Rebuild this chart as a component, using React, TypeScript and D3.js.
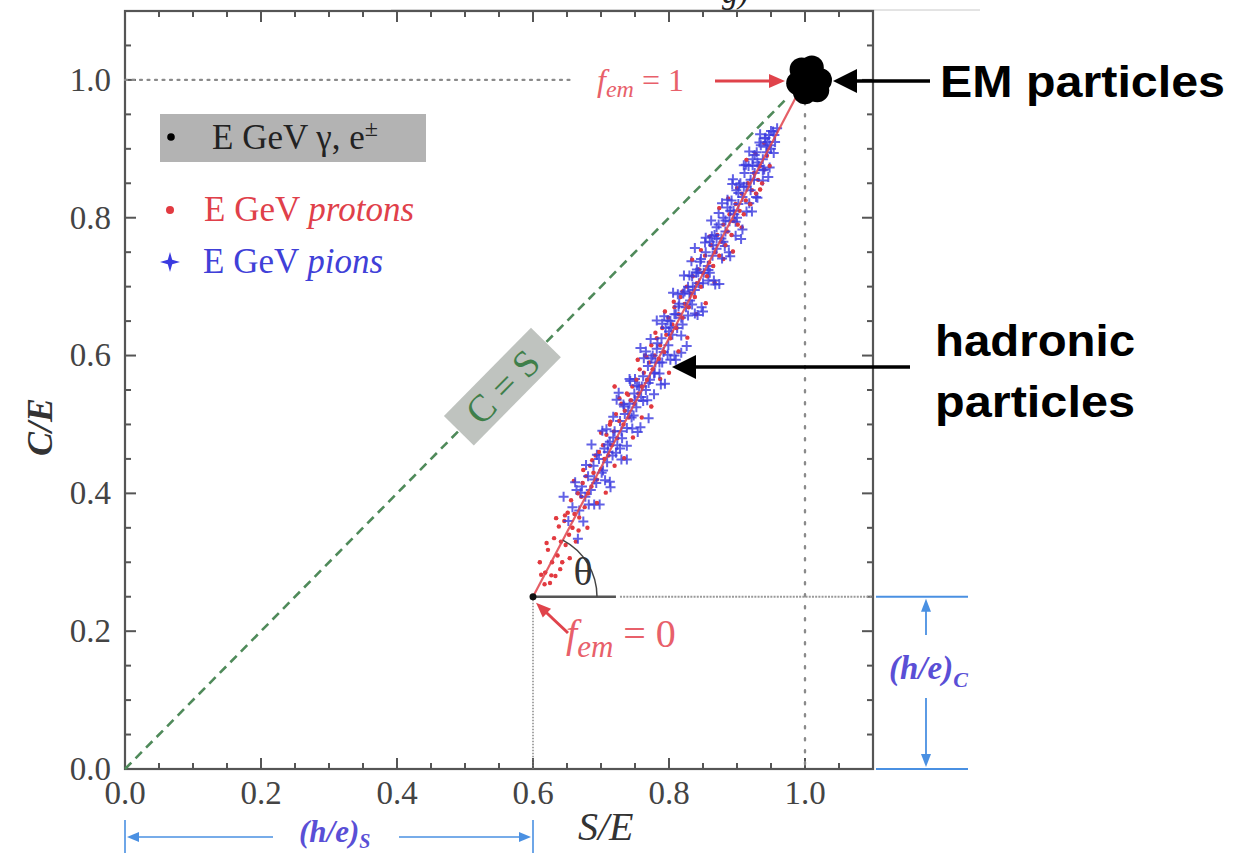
import React from "react";
import * as d3 from "d3";

// ---------- data ----------
const tickValues = [0, 0.2, 0.4, 0.6, 0.8, 1.0];
const tickLabels = ["0.0", "0.2", "0.4", "0.6", "0.8", "1.0"];
const minorTicks = d3.range(0, 1.1001, 0.05);
const axisMax = 1.1;

const femZero: [number, number] = [0.6, 0.25];
const femOne: [number, number] = [1.0, 1.0];
const equalityEnd = 0.975;
const oneLineEnd = 0.655;
const thetaSolidEnd = 0.722;

const protons: [number, number][] = [
  [0.61, 0.30], [0.612, 0.282], [0.617, 0.268], [0.618, 0.285], [0.622, 0.318], [0.625, 0.27],
  [0.628, 0.30], [0.631, 0.335], [0.633, 0.28], [0.636, 0.31], [0.638, 0.352], [0.641, 0.33],
  [0.643, 0.30], [0.646, 0.36], [0.648, 0.325], [0.651, 0.372], [0.653, 0.34], [0.656, 0.39],
  [0.658, 0.35], [0.661, 0.37], [0.663, 0.33], [0.666, 0.40], [0.668, 0.365], [0.671, 0.395],
  [0.673, 0.415], [0.676, 0.38], [0.678, 0.425], [0.681, 0.40], [0.684, 0.44], [0.686, 0.41],
  [0.689, 0.43], [0.692, 0.455], [0.694, 0.42], [0.697, 0.46], [0.70, 0.435], [0.703, 0.47],
  [0.705, 0.45], [0.708, 0.485], [0.711, 0.455], [0.713, 0.50], [0.716, 0.47], [0.719, 0.49],
  [0.72, 0.555], [0.722, 0.515], [0.724, 0.48], [0.727, 0.505], [0.73, 0.53], [0.733, 0.50],
  [0.735, 0.52], [0.738, 0.545], [0.741, 0.51], [0.744, 0.535], [0.746, 0.555], [0.749, 0.53],
  [0.752, 0.565], [0.755, 0.545], [0.757, 0.58], [0.76, 0.555], [0.763, 0.575], [0.765, 0.60],
  [0.768, 0.565], [0.771, 0.59], [0.774, 0.615], [0.776, 0.58], [0.779, 0.60], [0.782, 0.625],
  [0.785, 0.595], [0.787, 0.615], [0.79, 0.64], [0.793, 0.605], [0.796, 0.63], [0.799, 0.655],
  [0.802, 0.625], [0.805, 0.645], [0.808, 0.67], [0.811, 0.64], [0.814, 0.66], [0.817, 0.685],
  [0.82, 0.655], [0.823, 0.675], [0.826, 0.70], [0.829, 0.67], [0.832, 0.69], [0.835, 0.715],
  [0.838, 0.685], [0.841, 0.705], [0.844, 0.725], [0.847, 0.70], [0.85, 0.72], [0.853, 0.745],
  [0.856, 0.715], [0.859, 0.735], [0.862, 0.76], [0.865, 0.73], [0.868, 0.75], [0.871, 0.775],
  [0.874, 0.745], [0.877, 0.765], [0.88, 0.79], [0.883, 0.76], [0.886, 0.78], [0.889, 0.805],
  [0.892, 0.775], [0.895, 0.795], [0.898, 0.82], [0.901, 0.79], [0.904, 0.81], [0.907, 0.835],
  [0.91, 0.805], [0.913, 0.825], [0.916, 0.85], [0.919, 0.82], [0.922, 0.84], [0.925, 0.865],
  [0.928, 0.835], [0.931, 0.855], [0.934, 0.875], [0.937, 0.85], [0.94, 0.87], [0.944, 0.89],
  [0.948, 0.875],
  [0.62, 0.328], [0.627, 0.281], [0.634, 0.364], [0.64, 0.29], [0.647, 0.368], [0.654, 0.306],
  [0.66, 0.418], [0.667, 0.346], [0.674, 0.434], [0.68, 0.35], [0.687, 0.448], [0.694, 0.386],
  [0.70, 0.488], [0.707, 0.401], [0.714, 0.504], [0.72, 0.44], [0.727, 0.538], [0.734, 0.451],
  [0.74, 0.543], [0.747, 0.481], [0.754, 0.594], [0.76, 0.51], [0.767, 0.598], [0.774, 0.526],
  [0.78, 0.633], [0.787, 0.566], [0.794, 0.664], [0.80, 0.575], [0.807, 0.678], [0.814, 0.606],
  [0.82, 0.693], [0.827, 0.626], [0.834, 0.739], [0.84, 0.66], [0.847, 0.753], [0.854, 0.676],
  [0.86, 0.773], [0.867, 0.706], [0.874, 0.814], [0.88, 0.74], [0.887, 0.828], [0.894, 0.751],
  [0.90, 0.843], [0.907, 0.786], [0.914, 0.884], [0.92, 0.82], [0.927, 0.893], [0.934, 0.841],
  [0.94, 0.908],
];

const pions: [number, number][] = [
  [0.645, 0.395], [0.652, 0.36], [0.658, 0.38], [0.664, 0.405], [0.668, 0.375], [0.672, 0.41],
  [0.677, 0.395], [0.681, 0.425], [0.685, 0.405], [0.689, 0.44], [0.69, 0.42], [0.693, 0.415],
  [0.697, 0.45], [0.701, 0.43], [0.705, 0.465], [0.709, 0.445], [0.71, 0.46], [0.713, 0.475],
  [0.717, 0.455], [0.72, 0.49], [0.724, 0.47], [0.728, 0.505], [0.73, 0.49], [0.731, 0.48],
  [0.735, 0.515], [0.738, 0.495], [0.74, 0.52], [0.742, 0.53], [0.745, 0.51], [0.749, 0.545],
  [0.75, 0.535], [0.752, 0.525], [0.756, 0.555], [0.759, 0.54], [0.76, 0.555], [0.762, 0.57],
  [0.766, 0.55], [0.769, 0.585], [0.77, 0.56], [0.772, 0.565], [0.776, 0.60], [0.779, 0.575],
  [0.78, 0.59], [0.782, 0.61], [0.786, 0.59], [0.789, 0.625], [0.79, 0.59], [0.792, 0.605],
  [0.795, 0.64], [0.799, 0.615], [0.80, 0.635], [0.802, 0.65], [0.805, 0.63], [0.808, 0.66],
  [0.81, 0.66], [0.812, 0.64], [0.815, 0.675], [0.818, 0.655], [0.82, 0.645], [0.821, 0.69],
  [0.825, 0.67], [0.828, 0.70], [0.83, 0.69], [0.831, 0.68], [0.834, 0.715], [0.835, 0.70],
  [0.838, 0.695], [0.84, 0.72], [0.841, 0.725], [0.844, 0.705], [0.847, 0.74], [0.85, 0.705],
  [0.851, 0.72], [0.854, 0.75], [0.857, 0.73], [0.86, 0.765], [0.86, 0.72], [0.864, 0.745],
  [0.865, 0.76], [0.867, 0.775], [0.87, 0.755], [0.87, 0.77], [0.873, 0.79], [0.877, 0.77],
  [0.88, 0.80], [0.88, 0.765], [0.883, 0.78], [0.886, 0.815], [0.889, 0.795], [0.89, 0.81],
  [0.892, 0.825], [0.895, 0.81], [0.896, 0.805], [0.899, 0.84], [0.90, 0.80], [0.902, 0.82],
  [0.905, 0.85], [0.908, 0.83], [0.91, 0.845], [0.911, 0.865], [0.914, 0.845], [0.917, 0.875],
  [0.92, 0.855], [0.92, 0.84], [0.923, 0.885], [0.925, 0.855], [0.926, 0.865], [0.929, 0.895],
  [0.93, 0.88], [0.932, 0.875], [0.935, 0.905], [0.938, 0.885], [0.94, 0.87], [0.941, 0.915],
  [0.944, 0.895], [0.945, 0.91], [0.947, 0.92], [0.948, 0.905], [0.95, 0.90], [0.953, 0.925],
  [0.955, 0.92], [0.956, 0.91], [0.959, 0.93],
  [0.662, 0.416], [0.666, 0.334], [0.67, 0.401], [0.674, 0.359], [0.678, 0.441], [0.682, 0.384],
  [0.686, 0.471], [0.69, 0.384], [0.694, 0.456], [0.698, 0.384], [0.702, 0.491], [0.706, 0.419],
  [0.71, 0.471], [0.714, 0.409], [0.718, 0.511], [0.722, 0.459], [0.726, 0.546], [0.73, 0.449],
  [0.734, 0.526], [0.738, 0.449], [0.742, 0.566], [0.746, 0.494], [0.75, 0.566], [0.754, 0.489],
  [0.758, 0.611], [0.762, 0.534], [0.766, 0.606], [0.77, 0.509], [0.774, 0.596], [0.778, 0.544],
  [0.782, 0.651], [0.786, 0.574], [0.79, 0.646], [0.794, 0.559], [0.798, 0.651], [0.802, 0.594],
  [0.806, 0.691], [0.81, 0.594], [0.814, 0.671], [0.818, 0.629], [0.822, 0.716], [0.826, 0.614],
  [0.83, 0.716], [0.834, 0.674], [0.838, 0.756], [0.842, 0.659], [0.846, 0.736], [0.85, 0.664],
  [0.854, 0.771], [0.858, 0.709], [0.862, 0.796], [0.866, 0.709], [0.87, 0.786], [0.874, 0.704],
  [0.878, 0.821], [0.882, 0.759], [0.886, 0.826], [0.89, 0.744], [0.894, 0.856], [0.898, 0.774],
  [0.902, 0.836], [0.906, 0.769], [0.91, 0.876], [0.914, 0.809], [0.918, 0.896], [0.922, 0.809],
  [0.926, 0.891], [0.93, 0.829], [0.934, 0.921], [0.938, 0.854], [0.942, 0.916], [0.946, 0.859],
  [0.95, 0.926], [0.954, 0.894],
  [0.703, 0.433], [0.708, 0.493], [0.713, 0.417], [0.718, 0.481], [0.723, 0.536], [0.728, 0.465],
  [0.733, 0.529], [0.738, 0.469], [0.743, 0.563], [0.748, 0.513], [0.753, 0.557], [0.758, 0.496],
  [0.763, 0.596], [0.768, 0.535], [0.773, 0.624], [0.778, 0.574], [0.783, 0.618], [0.788, 0.558],
  [0.793, 0.657], [0.798, 0.601], [0.803, 0.641], [0.808, 0.60], [0.813, 0.689], [0.818, 0.604],
  [0.823, 0.693], [0.828, 0.658], [0.833, 0.737], [0.838, 0.661], [0.843, 0.721], [0.848, 0.67],
  [0.853, 0.764], [0.858, 0.724], [0.863, 0.773], [0.868, 0.703], [0.873, 0.807], [0.878, 0.741],
  [0.883, 0.796], [0.888, 0.75], [0.893, 0.849], [0.898, 0.794], [0.903, 0.848], [0.908, 0.783],
  [0.913, 0.877], [0.918, 0.821], [0.923, 0.876], [0.928, 0.83], [0.933, 0.909], [0.938, 0.869],
  [0.943, 0.903], [0.948, 0.873],
];

const emShowers: [number, number][] = [
  [0.995, 1.015], [1.01, 1.018], [1.022, 1.0], [1.018, 0.985], [1.0, 0.982], [0.99, 0.995], [1.005, 1.0],
];

// ---------- layout ----------
const W = 1247;
const H = 853;
const serif = "'Liberation Serif', 'Times New Roman', serif";
const sans = "'Liberation Sans', Arial, Helvetica, sans-serif";

const x = d3.scaleLinear().domain([0, axisMax]).range([125, 873]);
const y = d3.scaleLinear().domain([0, axisMax]).range([769, 11]);

const axisColor = "#555";
const redLine = "#e0434b";
const redText = "#e8606a";
const pionBlue = "#3a3ae0";
const annBlue = "#4a90e2";
const labelBlue = "#5a4fd6";

function headPath(tipX: number, tipY: number, dirX: number, dirY: number, len: number, half: number) {
  const bx = tipX - dirX * len;
  const by = tipY - dirY * len;
  const px = -dirY;
  const py = dirX;
  return `M${tipX},${tipY}L${bx + px * half},${by + py * half}L${bx - px * half},${by - py * half}Z`;
}

export default function App() {
  const x0 = x(0), x1 = x(axisMax), y0 = y(0), y1 = y(axisMax);
  const fz = [x(femZero[0]), y(femZero[1])];
  const fo = [x(femOne[0]), y(femOne[1])];
  const ang = Math.atan2(fz[1] - fo[1], fo[0] - fz[0]);
  const arcR = 64;
  const lineLine = d3.line<[number, number]>().x((d) => x(d[0])).y((d) => y(d[1]));
  const csx = x(0.555), csy = y(0.555);
  const csAngle = (Math.atan2(y(1) - y(0), x(1) - x(0)) * 180) / Math.PI;

  const starPts = [[0, -10], [2.2, -2.2], [10, 0], [2.2, 2.2], [0, 10], [-2.2, 2.2], [-10, 0], [-2.2, -2.2]];

  // f_em = 0 arrow geometry
  const fa = [568, 633];
  const fdx = fz[0] + 3 - fa[0], fdy = fz[1] + 6 - fa[1];
  const fl = Math.hypot(fdx, fdy);
  const fux = fdx / fl, fuy = fdy / fl;
  const pr = 5;

  return (
    <svg width={W} height={H} style={{ position: "absolute", left: 0, top: 0, background: "#fff" }}>
      {/* top remnants */}
      <line x1={391} x2={980} y1={10} y2={10} stroke="#c8c8c8" strokeWidth={1} />
      <text x={722} y={3} fontFamily={serif} fontStyle="italic" fontSize={32} fill="#222">g)</text>

      {/* frame */}
      <rect x={x0} y={y1} width={x1 - x0} height={y0 - y1} fill="none" stroke={axisColor} strokeWidth={2.2} />
      {minorTicks.map((v, i) => {
        const major = tickValues.some((t) => Math.abs(t - v) < 1e-6);
        const L = major ? 11 : 6;
        return (
          <g key={"t" + i} stroke={axisColor} strokeWidth={2}>
            <line x1={x(v)} x2={x(v)} y1={y0} y2={y0 - L} />
            <line x1={x(v)} x2={x(v)} y1={y1} y2={y1 + L} />
            <line x1={x0} x2={x0 + L} y1={y(v)} y2={y(v)} />
            <line x1={x1} x2={x1 - L} y1={y(v)} y2={y(v)} />
          </g>
        );
      })}
      {tickValues.map((v, i) => (
        <g key={"l" + i} fontFamily={serif} fontSize={33} fill="#444">
          <text x={x(v)} y={804} textAnchor="middle">{tickLabels[i]}</text>
          <text x={111} y={y(v)} dy="0.33em" textAnchor="end">{tickLabels[i]}</text>
        </g>
      ))}
      <text x={578} y={840} fontFamily={serif} fontStyle="italic" fontSize={40} fill="#333">S/E</text>
      <text transform={`translate(52,427) rotate(-90)`} textAnchor="middle" fontFamily={serif} fontStyle="italic" fontWeight="bold" fontSize={36} fill="#333">C/E</text>

      {/* reference dotted lines */}
      <line x1={x(0)} x2={x(oneLineEnd)} y1={y(1)} y2={y(1)} stroke="#8a8a8a" strokeWidth={2.2} strokeDasharray="2 5.5" strokeLinecap="round" />
      <line x1={x(1)} x2={x(1)} y1={y(0.985)} y2={y(0)} stroke="#8a8a8a" strokeWidth={2.4} strokeDasharray="2 10" strokeLinecap="round" />
      <line x1={fz[0]} x2={fz[0]} y1={fz[1]} y2={y0} stroke="#777" strokeWidth={1.3} strokeDasharray="1.5 1.5" />
      <line x1={x(thetaSolidEnd) + 4} x2={x1} y1={fz[1]} y2={fz[1]} stroke="#9a9a9a" strokeWidth={2.2} strokeDasharray="2 1.2" />

      {/* C = S diagonal */}
      <path d={lineLine([[0, 0], [equalityEnd, equalityEnd]]) || ""} stroke="#4f8a5a" strokeWidth={2.6} strokeDasharray="9 6" fill="none" />
      <g transform={`translate(${csx},${csy}) rotate(${csAngle})`}>
        <rect x={-62} y={-21} width={124} height={42} fill="#bfc3bf" />
        <text x={0} y={0} dy="0.35em" textAnchor="middle" fontFamily={serif} fontSize={38} fill="#3f7f4a">C = S</text>
      </g>

      {/* hadron scatter */}
      {protons.map((d, i) => (
        <circle key={"p" + i} cx={x(d[0])} cy={y(d[1])} r={2.2} fill="#e23a40" />
      ))}
      {pions.map((d, i) => (
        <path key={"pi" + i} d={`M${x(d[0]) - pr},${y(d[1])}H${x(d[0]) + pr}M${x(d[0])},${y(d[1]) - pr}V${y(d[1]) + pr}`} stroke={pionBlue} strokeWidth={2} opacity={0.8} />
      ))}
      {protons.filter((_, i) => i % 3 === 0).map((d, i) => (
        <circle key={"pt" + i} cx={x(d[0])} cy={y(d[1])} r={2} fill="#e23a40" opacity={0.85} />
      ))}
      <path d={lineLine([femZero, femOne]) || ""} stroke={redLine} strokeWidth={2.2} opacity={0.85} fill="none" />

      {/* theta construction */}
      <line x1={fz[0]} x2={x(thetaSolidEnd)} y1={fz[1]} y2={fz[1]} stroke="#555" strokeWidth={2.6} />
      <path d={`M${fz[0] + arcR},${fz[1]} A${arcR},${arcR} 0 0 0 ${fz[0] + arcR * Math.cos(ang)},${fz[1] - arcR * Math.sin(ang)}`} fill="none" stroke="#444" strokeWidth={1.5} />
      <circle cx={fz[0]} cy={fz[1]} r={3.5} fill="#111" />
      <text x={583} y={571} dy="0.35em" textAnchor="middle" fontFamily={serif} fontSize={40} fill="#333">θ</text>

      {/* EM blob */}
      {emShowers.map((d, i) => (
        <circle key={"em" + i} cx={x(d[0])} cy={y(d[1])} r={12} fill="#000" />
      ))}

      {/* f_em = 1 */}
      <text x={597} y={91} fontFamily={serif} fontSize={32} fill={redText}>
        <tspan fontStyle="italic">f</tspan>
        <tspan fontStyle="italic" fontSize={24} dy={6}>em</tspan>
        <tspan dy={-6}> = 1</tspan>
      </text>
      <line x1={715} x2={fo[0] - 32} y1={81} y2={81} stroke={redLine} strokeWidth={3} />
      <path d={headPath(fo[0] - 20, 81, 1, 0, 16, 7)} fill={redLine} />

      {/* f_em = 0 */}
      <line x1={fa[0]} y1={fa[1]} x2={fz[0] + 3 + -fux * 12} y2={fz[1] + 6 - fuy * 12} stroke={redLine} strokeWidth={3} />
      <path d={headPath(fz[0] + 3, fz[1] + 6, fux, fuy, 15, 6)} fill={redLine} />
      <text x={566} y={647} fontFamily={serif} fontSize={40} fill={redText}>
        <tspan fontStyle="italic">f</tspan>
        <tspan fontStyle="italic" fontSize={31} dy={10}>em</tspan>
        <tspan dy={-10}> = 0</tspan>
      </text>

      {/* (h/e)_S arrow */}
      <g stroke={annBlue} strokeWidth={1.6}>
        <line x1={x0} x2={x0} y1={820} y2={853} />
        <line x1={fz[0]} x2={fz[0]} y1={820} y2={853} />
        <line x1={x0 + 10} x2={273} y1={837} y2={837} />
        <line x1={399} x2={fz[0] - 10} y1={837} y2={837} />
      </g>
      <path d={headPath(x0 + 2, 837, -1, 0, 12, 5)} fill={annBlue} />
      <path d={headPath(fz[0] - 2, 837, 1, 0, 12, 5)} fill={annBlue} />
      <text x={299} y={842} fontFamily={serif} fontStyle="italic" fontWeight="bold" fontSize={31} fill={labelBlue}>
        (h/e)<tspan fontSize={20} dy={6}>S</tspan>
      </text>

      {/* (h/e)_C arrow */}
      <g stroke={annBlue} strokeWidth={1.8}>
        <line x1={x1 + 3} x2={968} y1={fz[1]} y2={fz[1]} />
        <line x1={x1 + 3} x2={968} y1={y0} y2={y0} />
        <line x1={926} x2={926} y1={fz[1] + 10} y2={635} />
        <line x1={926} x2={926} y1={698} y2={y0 - 10} />
      </g>
      <path d={headPath(926, fz[1] + 2, 0, -1, 13, 5)} fill={annBlue} />
      <path d={headPath(926, y0 - 2, 0, 1, 13, 5)} fill={annBlue} />
      <text x={889} y={679} fontFamily={serif} fontStyle="italic" fontWeight="bold" fontSize={33} fill={labelBlue}>
        (h/e)<tspan fontSize={22} dy={8}>C</tspan>
      </text>

      {/* big annotations */}
      <line x1={930} x2={850} y1={81} y2={81} stroke="#000" strokeWidth={3.5} />
      <path d={headPath(833, 81, -1, 0, 24, 12)} fill="#000" />
      <text x={940} y={97} fontFamily={sans} fontWeight="bold" fontSize={45} textLength={285} lengthAdjust="spacingAndGlyphs" fill="#000">EM particles</text>

      <line x1={910} x2={690} y1={367} y2={367} stroke="#000" strokeWidth={3.5} />
      <path d={headPath(672, 367, -1, 0, 24, 12)} fill="#000" />
      <text x={935} y={356} fontFamily={sans} fontWeight="bold" fontSize={45} textLength={200} lengthAdjust="spacingAndGlyphs" fill="#000">hadronic</text>
      <text x={935} y={417} fontFamily={sans} fontWeight="bold" fontSize={45} textLength={200} lengthAdjust="spacingAndGlyphs" fill="#000">particles</text>

      {/* legend */}
      <rect x={160} y={114} width={266} height={48} fill="#b3b3b3" />
      <circle cx={171} cy={137} r={3.8} fill="#000" />
      <text x={212} y={149} fontFamily={serif} fontSize={35} fill="#222">
        E GeV γ, e<tspan fontSize={24} dy={-13}>±</tspan>
      </text>
      <circle cx={170} cy={210} r={4} fill="#e23a40" />
      <text x={204} y={221} fontFamily={serif} fontSize={35} fill="#e0404a">
        E GeV <tspan fontStyle="italic">protons</tspan>
      </text>
      <path d={"M" + starPts.map((p) => `${170 + p[0]},${262 + p[1]}`).join("L") + "Z"} fill={pionBlue} />
      <text x={203} y={273} fontFamily={serif} fontSize={35} fill="#4040d8">
        E GeV <tspan fontStyle="italic">pions</tspan>
      </text>
    </svg>
  );
}
